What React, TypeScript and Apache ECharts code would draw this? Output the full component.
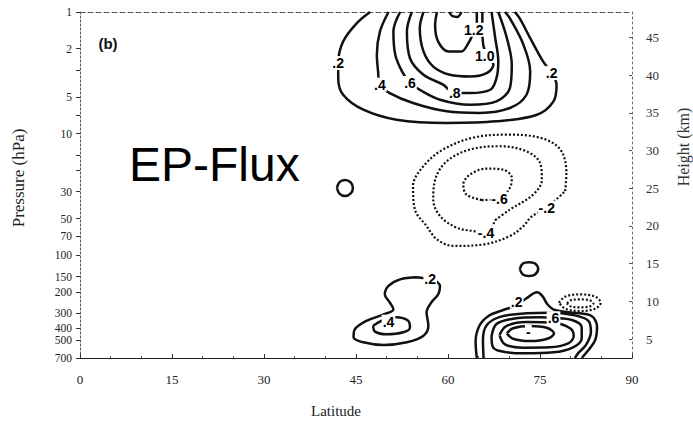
import React, { useEffect, useRef } from "react";
import * as echarts from "echarts";

// ---- axis data ----
const PRESSURE_TICKS = [1, 2, 5, 10, 30, 50, 70, 100, 150, 200, 300, 400, 500, 700];
const PRESSURE_MINOR = [3, 7, 15, 20];
const HEIGHT_KM = [5, 10, 15, 20, 25, 30, 35, 40, 45];
const SCALE_HEIGHT_KM = 7;
const P_TOP = 1;
const P_BOTTOM = 700;

// ---- contours: [latitude, pressure hPa] ----
const TOP_02 = [[47.3, 1], [45.1, 1.24], [42.9, 1.75], [42.1, 2.63], [42.1, 3.5], [42.9, 4.79], [46.2, 6.36], [51.6, 7.68], [59.8, 8.17], [67.9, 7.93], [74.5, 6.99], [77.2, 5.43], [77.7, 3.96], [76.9, 3.18], [75.5, 2.55], [73.4, 1.64], [71.7, 1.13], [70.9, 1]];
const TOP_04 = [[50.3, 1], [48.9, 1.45], [48.4, 2.25], [48.6, 3.08], [48.9, 3.96], [50.5, 4.64], [54.3, 5.6], [59.8, 6.56], [65.2, 6.77], [70.1, 6.16], [72.8, 4.79], [73.4, 3.08], [72.3, 1.86], [70.1, 1.13], [69.3, 1]];
const TOP_06 = [[52.2, 1], [51.1, 1.45], [51.4, 2.25], [52.5, 3.08], [53.8, 3.84], [55.4, 4.36], [58.7, 5.26], [63.6, 5.79], [67.9, 5.43], [70.1, 4.22], [70.4, 2.72], [69.6, 1.64], [68.2, 1]];
const TOP_08 = [[54.1, 1], [53.3, 1.45], [53.8, 2.4], [56.0, 3.28], [59.2, 3.96], [61.1, 4.64], [63.6, 4.64], [66.9, 4.36], [67.9, 3.5], [68.2, 2.55], [67.7, 1.64], [67.1, 1]];
const TOP_10 = [[56.0, 1], [55.4, 1.36], [56.0, 2.11], [57.6, 2.81], [60.3, 3.28], [63.6, 3.39], [66.3, 3.18], [67.4, 2.72], [65.8, 1.92], [65.6, 1.36], [65.6, 1]];
const TOP_12 = [[58.2, 1], [57.9, 1.28], [58.4, 1.75], [60.1, 2.11], [62.2, 2.11], [63.3, 1.81], [64.0, 1.54], [64.7, 1.2], [64.7, 1]];
const TOP_14 = [[60.2, 1], [60.7, 1.08], [61.5, 1.1], [62.2, 1]];

const MID_M02 = [[79.1, 29.7], [79.3, 21.0], [78.3, 13.5], [75.0, 10.8], [69.6, 10.2], [64.1, 10.8], [59.2, 13.5], [56.0, 18.5], [54.3, 27.0], [54.6, 42.1], [56.5, 57.5], [58.2, 74.1], [60.9, 83.9], [65.8, 81.5], [70.1, 69.5], [72.3, 57.5], [73.6, 48.2], [76.1, 40.6]];
const MID_M04 = [[67.7, 51.4], [70.1, 42.1], [73.9, 31.7], [75.3, 23.9], [75.0, 17.4], [72.8, 14.0], [68.5, 12.7], [63.6, 13.5], [59.8, 16.9], [57.9, 23.9], [57.6, 34.8], [58.7, 47.6], [61.4, 59.3], [64.1, 63.2], [66.2, 65.2]];
const MID_M06 = [[65.5, 35.2], [63.0, 31.7], [62.5, 26.2], [63.6, 21.7], [66.3, 19.4], [69.0, 19.8], [70.4, 23.1], [70.1, 27.9], [68.4, 34.3]];

const CIRCLE_WEST = [[41.9, 28.0], [42.3, 25.1], [43.2, 24.1], [44.1, 25.1], [44.5, 28.0], [44.1, 31.2], [43.2, 32.6], [42.3, 31.2]];
const CIRCLE_EAST = [[71.7, 130], [72.2, 117], [73.2, 114], [74.2, 117], [74.7, 130], [74.2, 144], [73.2, 148], [72.2, 144]];

const BL_02 = [[54.9, 152], [52.2, 158], [50.3, 179], [49.7, 210], [50.5, 244], [51.1, 279], [49.5, 307], [46.7, 346], [44.8, 407], [44.6, 473], [46.2, 520], [49.5, 547], [53.3, 520], [56.0, 459], [56.8, 380], [56.5, 295], [57.3, 244], [58.4, 210], [58.7, 179], [57.9, 162], [57.1, 158]];
const BL_04 = [[47.8, 380], [49.2, 346], [51.6, 324], [53.5, 346], [53.8, 392], [52.7, 430], [50.0, 447], [48.1, 425]];

const BR_02 = [[64.7, 700], [64.5, 514], [65.1, 382], [66.6, 316], [69.0, 282], [70.9, 262], [72.8, 226], [74.5, 202], [75.4, 217], [76.2, 253], [77.4, 282], [80.4, 297], [83.4, 316], [84.3, 387], [84.0, 498], [82.9, 602], [81.8, 700]];
const BR_04 = [[65.8, 700], [65.7, 498], [66.3, 377], [68.5, 321], [72.8, 300], [76.6, 297], [80.4, 310], [82.9, 346], [83.3, 426], [82.5, 547], [81.2, 641], [80.7, 700]];
const BR_06 = [[67.1, 468], [67.9, 368], [70.6, 333], [75.0, 324], [77.2, 328], [80.2, 341], [81.8, 392], [81.8, 482], [80.4, 572], [77.2, 629], [72.3, 641], [68.5, 614], [67.3, 565]];
const BR_08 = [[68.4, 453], [69.5, 382], [72.8, 354], [77.2, 359], [79.9, 399], [80.5, 462], [79.6, 531], [76.6, 572], [72.3, 576], [69.3, 541]];
const BR_10 = [[69.6, 439], [70.6, 399], [73.4, 382], [76.1, 395], [77.3, 439], [76.2, 486], [73.4, 508], [70.6, 486]];
const BR_M02 = [[78.1, 246], [79.1, 219], [81.5, 210], [84.0, 219], [84.9, 246], [84.0, 275], [81.5, 288], [79.1, 275]];
const BR_M04 = [[79.4, 249], [80.1, 234], [81.5, 231], [83.0, 234], [83.7, 249], [83.0, 265], [81.5, 268], [80.1, 265]];

// ---- contour labels: [latitude, pressure, text] ----
const CONTOUR_LABELS = [
  [42.1, 2.63, ".2"], [48.9, 3.96, ".4"], [53.8, 3.84, ".6"], [61.1, 4.64, ".8"],
  [66.0, 2.3, "1.0"], [64.2, 1.4, "1.2"], [76.9, 3.18, ".2"],
  [68.4, 34.3, "-.6"], [66.2, 65.2, "-.4"], [76.1, 40.6, "-.2"],
  [57.1, 158, ".2"], [50.3, 352, ".4"],
  [71.2, 241, ".2"], [77.2, 330, ".6"], [73.1, 426, "-"],
];

const CONTOURS = [
  { data: TOP_02, dotted: false, closed: false },
  { data: TOP_04, dotted: false, closed: false },
  { data: TOP_06, dotted: false, closed: false },
  { data: TOP_08, dotted: false, closed: false },
  { data: TOP_10, dotted: false, closed: false },
  { data: TOP_12, dotted: false, closed: false },
  { data: TOP_14, dotted: false, closed: false },
  { data: MID_M02, dotted: true, closed: true },
  { data: MID_M04, dotted: true, closed: true },
  { data: MID_M06, dotted: true, closed: true },
  { data: CIRCLE_WEST, dotted: false, closed: true },
  { data: CIRCLE_EAST, dotted: false, closed: true },
  { data: BL_02, dotted: false, closed: true },
  { data: BL_04, dotted: false, closed: true },
  { data: BR_02, dotted: false, closed: false },
  { data: BR_04, dotted: false, closed: false },
  { data: BR_06, dotted: false, closed: true },
  { data: BR_08, dotted: false, closed: true },
  { data: BR_10, dotted: false, closed: true },
  { data: BR_M02, dotted: true, closed: true },
  { data: BR_M04, dotted: true, closed: true },
];

const lg = (p: number) => Math.log10(p);
const heightToLogP = (z: number) => lg(1000 * Math.exp(-z / SCALE_HEIGHT_KM));

export default function App() {
  const ref = useRef<HTMLDivElement>(null);
  useEffect(() => {
    if (!ref.current) return;
    const chart = echarts.init(ref.current, undefined, { renderer: "svg" });
    const serif = "Liberation Serif";
    const textColor = "#222";

    const lineSeries = CONTOURS.map((c) => {
      const pts = c.data.map(([x, p]) => [x, lg(p)]);
      if (c.closed) pts.push(pts[0]);
      return {
        type: "line",
        data: pts,
        smooth: 0.35,
        showSymbol: false,
        symbol: "none",
        silent: true,
        xAxisIndex: 0,
        yAxisIndex: 0,
        lineStyle: c.dotted
          ? { color: "#111", width: 2.2, type: [2, 2] }
          : { color: "#111", width: 2.5, type: "solid" },
        z: 2,
      };
    });

    const labelSeries = {
      type: "scatter",
      data: CONTOUR_LABELS.map(([x, p, t]) => [x, lg(p as number), t]),
      symbol: "circle",
      symbolSize: 1,
      itemStyle: { color: "#fff" },
      xAxisIndex: 0,
      yAxisIndex: 0,
      silent: true,
      z: 10,
      label: {
        show: true,
        position: "inside",
        formatter: (d: any) => d.data[2],
        fontFamily: "Liberation Sans",
        fontWeight: "bold",
        fontSize: 14,
        color: "#000",
        opacity: 1,
        backgroundColor: "#fff",
        padding: [0, 1],
      },
    };

    const yMax = lg(P_BOTTOM);
    chart.setOption({
      animation: false,
      backgroundColor: "#fff",
      grid: { left: 80, right: 61, top: 12, bottom: 64, containLabel: false },
      xAxis: [
        {
          type: "value",
          min: 0,
          max: 90,
          interval: 15,
          position: "bottom",
          axisLine: { show: true, onZero: false, lineStyle: { color: "#222", width: 1.2 } },
          axisTick: { show: true, inside: true, length: 4, lineStyle: { color: "#333" } },
          minorTick: { show: true, splitNumber: 3, length: 2, lineStyle: { color: "#555" } },
          axisLabel: { margin: 15, fontFamily: serif, fontSize: 13, color: textColor },
          splitLine: { show: false },
        },
        {
          type: "value",
          min: 0,
          max: 90,
          position: "top",
          axisLine: { show: true, onZero: false, lineStyle: { color: "#555", type: [5, 3] } },
          axisTick: { show: false },
          axisLabel: { show: false },
          splitLine: { show: false },
        },
      ],
      yAxis: [
        {
          type: "value",
          inverse: true,
          min: lg(P_TOP),
          max: yMax,
          position: "left",
          axisLine: { show: true, onZero: false, lineStyle: { color: "#555", type: [2, 2] } },
          axisTick: {
            show: true,
            length: 4,
            customValues: PRESSURE_TICKS.concat(PRESSURE_MINOR).map(lg),
            lineStyle: { color: "#333" },
          },
          axisLabel: {
            customValues: PRESSURE_TICKS.map(lg),
            formatter: (v: number) => String(Math.round(Math.pow(10, v))),
            margin: 8,
            fontFamily: serif,
            fontSize: 11.5,
            lineHeight: 11,
            color: textColor,
          },
          splitLine: { show: false },
        },
        {
          type: "value",
          inverse: true,
          min: lg(P_TOP),
          max: yMax,
          position: "right",
          axisLine: { show: true, onZero: false, lineStyle: { color: "#666", type: [2, 3] } },
          axisTick: {
            show: true,
            inside: true,
            length: 3,
            customValues: HEIGHT_KM.map(heightToLogP),
            lineStyle: { color: "#555" },
          },
          axisLabel: {
            customValues: HEIGHT_KM.map(heightToLogP),
            formatter: (v: number) =>
              String(Math.round(SCALE_HEIGHT_KM * Math.log(1000 / Math.pow(10, v)))),
            margin: 14,
            fontFamily: serif,
            fontSize: 13,
            color: "#333",
          },
          splitLine: { show: false },
        },
      ],
      graphic: [
        {
          type: "text",
          x: 18,
          y: 178,
          rotation: Math.PI / 2,
          style: { text: "Pressure (hPa)", fontFamily: serif, fontSize: 17, fill: textColor, align: "center", verticalAlign: "middle" },
        },
        {
          type: "text",
          x: 683,
          y: 147,
          rotation: Math.PI / 2,
          style: { text: "Height (km)", fontFamily: serif, fontSize: 16, fill: "#333", align: "center", verticalAlign: "middle" },
        },
        {
          type: "text",
          x: 336,
          y: 411,
          style: { text: "Latitude", fontFamily: serif, fontSize: 15, fill: textColor, align: "center", verticalAlign: "middle" },
        },
        {
          type: "text",
          x: 108,
          y: 43,
          style: { text: "(b)", fontFamily: "Liberation Sans", fontWeight: "bold", fontSize: 15, fill: "#111", align: "center", verticalAlign: "middle" },
        },
        {
          type: "text",
          x: 129,
          y: 140,
          style: { text: "EP-Flux", fontFamily: "Liberation Sans", fontSize: 48, fill: "#000", align: "left", verticalAlign: "alphabetic" },
        },
      ],
      series: [...lineSeries, labelSeries],
    });
    return () => chart.dispose();
  }, []);
  return (
    <div
      ref={ref}
      style={{ position: "fixed", left: 0, top: 0, width: 693, height: 422, background: "#fff" }}
    />
  );
}
